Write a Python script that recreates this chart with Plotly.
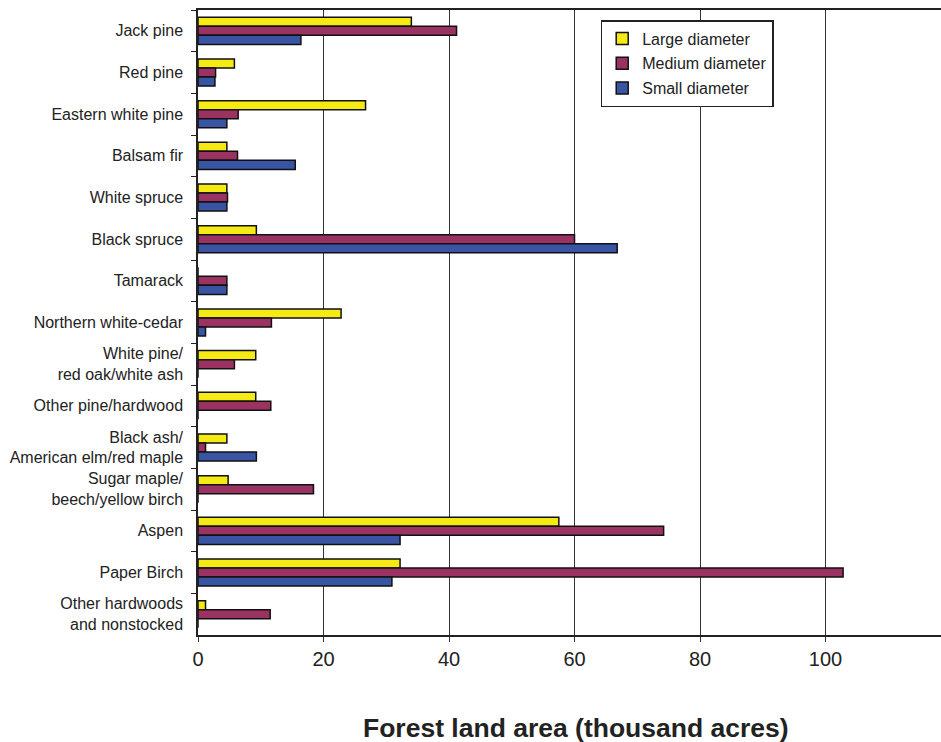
import plotly.graph_objects as go

# Forest types, listed top to bottom
forest_types = [
    "Jack pine",
    "Red pine",
    "Eastern white pine",
    "Balsam fir",
    "White spruce",
    "Black spruce",
    "Tamarack",
    "Northern white-cedar",
    "White pine/<br>red oak/white ash",
    "Other pine/hardwood",
    "Black ash/<br>American elm/red maple",
    "Sugar maple/<br>beech/yellow birch",
    "Aspen",
    "Paper Birch",
    "Other hardwoods<br>and nonstocked",
]

# Forest land area by stand-size class (thousand acres)
large_diameter = [34.0, 5.8, 26.7, 4.6, 4.6, 9.3, 0.0, 22.8, 9.2, 9.2, 4.6, 4.8, 57.5, 32.2, 1.2]
medium_diameter = [41.2, 2.8, 6.4, 6.3, 4.7, 60.0, 4.6, 11.7, 5.8, 11.6, 1.2, 18.4, 74.2, 102.8, 11.5]
small_diameter = [16.4, 2.7, 4.6, 15.5, 4.6, 66.8, 4.6, 1.2, 0.0, 0.0, 9.3, 0.0, 32.2, 30.9, 0.0]

x_ticks = [0, 20, 40, 60, 80, 100]

series = [
    ("Large diameter", large_diameter, "#F6EA14"),
    ("Medium diameter", medium_diameter, "#9B3362"),
    ("Small diameter", small_diameter, "#3A54A4"),
]

fig = go.Figure()
for i, (name, vals, color) in enumerate(series):
    fig.add_trace(go.Bar(
        name=name,
        y=forest_types,
        x=vals,
        orientation="h",
        legendgroup=f"g{i}",
        marker=dict(color=color, line=dict(color="#111111", width=1.5)),
    ))

# Axis title drawn as a centred annotation below the tick labels
fig.add_annotation(
    text="<b>Forest land area (thousand acres)</b>",
    xref="paper", yref="paper",
    x=0.5, y=0,
    xanchor="center", yanchor="middle",
    xshift=6, yshift=-93,
    showarrow=False,
    font=dict(size=26.5, color="#222222"),
)

fig.update_layout(
    width=941,
    height=742,
    margin=dict(l=198, r=0, t=10, b=107),
    barmode="group",
    bargap=0.35,
    bargroupgap=0,
    plot_bgcolor="white",
    paper_bgcolor="white",
    font=dict(family="Liberation Sans, Arial, sans-serif", color="#222222"),
    showlegend=True,
    legend=dict(
        x=0.542,
        y=0.984,
        xanchor="left",
        yanchor="top",
        bgcolor="white",
        bordercolor="#222222",
        borderwidth=1.5,
        font=dict(size=16, color="#222222"),
        traceorder="grouped",
        tracegroupgap=1,
        entrywidth=150,
        entrywidthmode="pixels",
    ),
    xaxis=dict(
        range=[0, 118.4],
        tickvals=x_ticks,
        ticktext=[str(v) for v in x_ticks],
        tickfont=dict(size=20, color="#222222"),
        showgrid=True,
        gridcolor="#333333",
        gridwidth=1,
        zeroline=False,
        showline=True,
        mirror=True,
        linecolor="#222222",
        linewidth=1.5,
        ticks="outside",
        ticklen=5,
        tickcolor="#333333",
    ),
    yaxis=dict(
        autorange="reversed",
        tickfont=dict(size=16, color="#222222"),
        showgrid=False,
        showline=True,
        linecolor="#222222",
        linewidth=1.5,
        ticks="outside",
        ticklen=5,
        tickcolor="#222222",
        tickson="boundaries",
        ticklabelstandoff=10,
    ),
)

fig.write_html("out.html")
